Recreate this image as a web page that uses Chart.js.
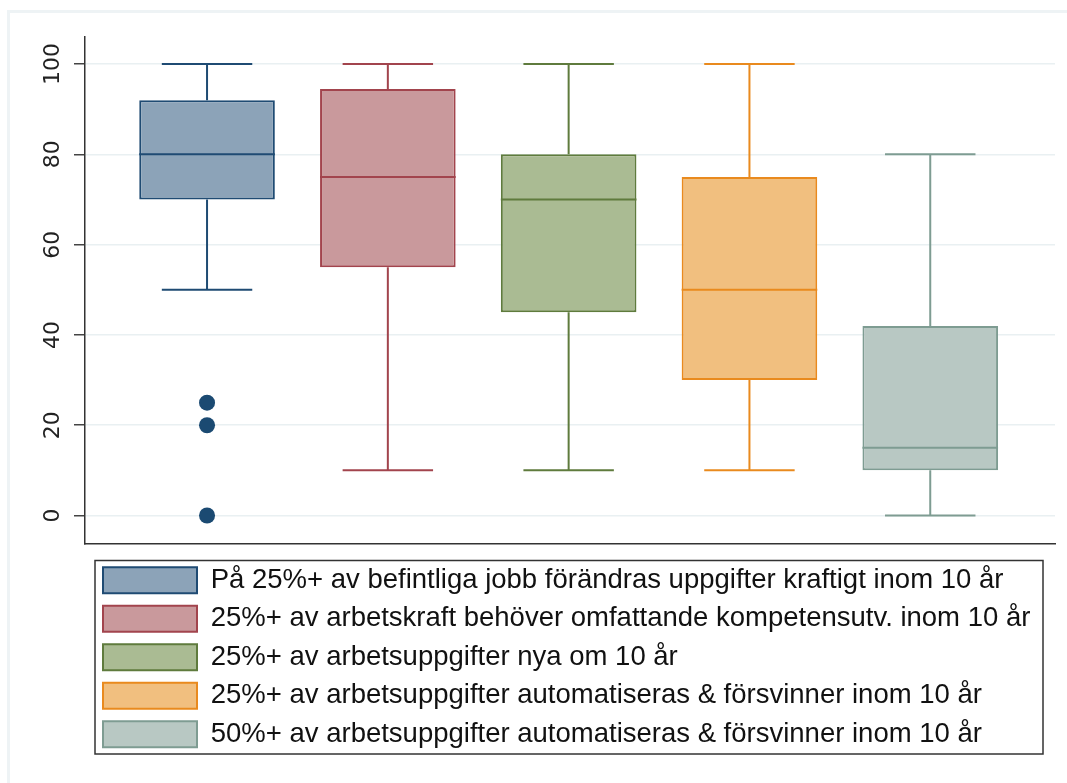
<!DOCTYPE html>
<html lang="sv">
<head>
  <meta charset="UTF-8" />
  <title>Boxplot</title>
  <script src="https://cdn.jsdelivr.net/npm/chart.js"></script>
  <style>
    html, body {
      margin: 0;
      padding: 0;
      background: #fff;
      overflow: hidden;
    }
    .ram {
      position: absolute;
      left: 7px;
      top: 10px;
      width: 1100px;
      height: 800px;
      border-left: 3px solid #eef3f5;
      border-top: 3px solid #eef3f5;
    }
    #grafik {
      position: absolute;
      left: 0;
      top: 0;
    }
  </style>
</head>
<body>
  <div class="ram"></div>
  <canvas id="grafik" width="1067" height="783"></canvas>

  <script>
    // kategorier (en låda per kategori)
    const kategorier = [
      'På 25%+ av befintliga jobb förändras uppgifter kraftigt inom 10 år',
      '25%+ av arbetskraft behöver omfattande kompetensutv. inom 10 år',
      '25%+ av arbetsuppgifter nya om 10 år',
      '25%+ av arbetsuppgifter automatiseras & försvinner inom 10 år',
      '50%+ av arbetsuppgifter automatiseras & försvinner inom 10 år'
    ];
    const minVarden = [50, 10, 10, 10, 0];
    const kvartil1 = [70, 55, 45, 30, 10];
    const medianer = [80, 75, 70, 50, 15];
    const kvartil3 = [92, 94.5, 80, 75, 42];
    const maxVarden = [100, 100, 100, 100, 80];
    const avvikare = [[25, 20, 0], [], [], [], []];
    const yTicks = [0, 20, 40, 60, 80, 100];

    const fyllning = ['#8ca3b8', '#c9999c', '#aabb93', '#f1bf7f', '#b8c8c3'];
    const kantfarg = ['#1f4b73', '#a2444d', '#5f7b3d', '#e98a1e', '#7e9c92'];

    const lador = kategorier.map((namn, i) => ({
      type: 'bar',
      label: namn,
      data: [{ x: i + 1, y: [kvartil1[i], kvartil3[i]] }],
      backgroundColor: fyllning[i],
      borderColor: kantfarg[i],
      borderWidth: 2,
      borderSkipped: false,
      grouped: false,
      categoryPercentage: 1,
      barPercentage: 0.75
    }));

    const punkter = [];
    avvikare.forEach((lista, i) => lista.forEach(v => punkter.push({ x: i + 1, y: v })));

    // morrhår, median och ändstreck
    const morrhar = {
      id: 'morrhar',
      afterDatasetsDraw(chart) {
        const ctx = chart.ctx;
        const y = chart.scales.y;
        for (let i = 0; i < kategorier.length; i++) {
          const el = chart.getDatasetMeta(i).data[0];
          if (!el) continue;
          const x = el.x;
          const w = el.width;
          const cap = w * 0.667;
          ctx.save();
          ctx.strokeStyle = kantfarg[i];
          ctx.lineWidth = 2;
          ctx.beginPath();
          ctx.moveTo(x, y.getPixelForValue(kvartil3[i]));
          ctx.lineTo(x, y.getPixelForValue(maxVarden[i]));
          ctx.moveTo(x, y.getPixelForValue(kvartil1[i]));
          ctx.lineTo(x, y.getPixelForValue(minVarden[i]));
          ctx.moveTo(x - cap / 2, y.getPixelForValue(maxVarden[i]));
          ctx.lineTo(x + cap / 2, y.getPixelForValue(maxVarden[i]));
          ctx.moveTo(x - cap / 2, y.getPixelForValue(minVarden[i]));
          ctx.lineTo(x + cap / 2, y.getPixelForValue(minVarden[i]));
          ctx.moveTo(x - w / 2, y.getPixelForValue(medianer[i]));
          ctx.lineTo(x + w / 2, y.getPixelForValue(medianer[i]));
          ctx.stroke();
          ctx.restore();
        }
      }
    };

    // flytta legenden lite och rita ram runt den
    const legendRam = {
      id: 'legendRam',
      afterLayout(chart) {
        const lg = chart.legend;
        lg.left += 7;
        lg.right += 7;
        if (!lg._klippt) {
          const orig = lg.draw;
          lg.draw = function () {
            const ctx = this.ctx;
            ctx.save();
            ctx.beginPath();
            ctx.rect(this.left, this.top, this.right - this.left - 19, this.bottom - this.top);
            ctx.clip();
            orig.apply(this, arguments);
            ctx.restore();
            ctx.save();
            ctx.strokeStyle = '#333';
            ctx.lineWidth = 1.5;
            ctx.strokeRect(this.left + 3, this.top + 5, this.right - this.left - 22, this.bottom - this.top - 9);
            ctx.restore();
          };
          lg._klippt = true;
        }
      }
    };

    new Chart(document.getElementById('grafik'), {
      data: {
        datasets: [
          ...lador,
          {
            type: 'scatter',
            label: 'avvikare',
            data: punkter,
            pointRadius: 8,
            pointHoverRadius: 8,
            backgroundColor: '#1b4a72',
            borderWidth: 0,
            order: -1
          }
        ]
      },
      options: {
        responsive: false,
        devicePixelRatio: 1,
        animation: false,
        layout: {
          padding: { top: 37, right: 12, bottom: 25, left: 0 }
        },
        scales: {
          x: {
            type: 'linear',
            min: 0.325,
            max: 5.69,
            offset: false,
            afterBuildTicks(scale) {
              scale.ticks = kategorier.map((_, i) => ({ value: i + 1 }));
            },
            grid: { display: false, offset: false },
            ticks: { display: false },
            border: { display: true, color: '#333', width: 1.5 },
            afterFit(scale) { scale.height = 12; }
          },
          y: {
            min: -6.2,
            max: 106,
            afterBuildTicks(scale) {
              scale.ticks = yTicks.map(v => ({ value: v }));
            },
            afterFit(scale) { scale.width = 85; },
            grid: {
              color: '#e9f0f2',
              lineWidth: 1.5,
              tickLength: 11,
              tickColor: '#444'
            },
            border: { color: '#333', width: 1.5 },
            ticks: {
              minRotation: 90,
              maxRotation: 90,
              crossAlign: 'center',
              padding: 0,
              color: '#222',
              font: { family: 'DejaVu Sans', size: 22 }
            }
          }
        },
        plugins: {
          tooltip: { enabled: false },
          legend: {
            display: true,
            position: 'bottom',
            align: 'start',
            fullSize: false,
            labels: {
              boxWidth: 94,
              boxHeight: 26,
              padding: 11,
              color: '#111',
              font: { family: "'Liberation Sans', Arial, sans-serif", size: 27.5 },
              filter: item => item.datasetIndex < kategorier.length
            }
          }
        }
      },
      plugins: [morrhar, legendRam]
    });
  </script>
</body>
</html>
